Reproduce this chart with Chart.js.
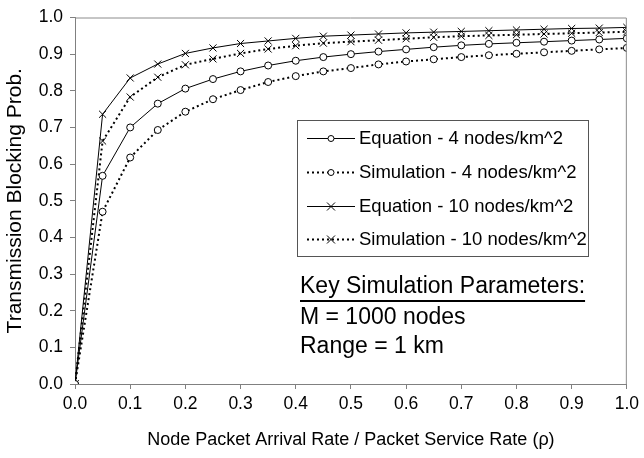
<!DOCTYPE html>
<html>
<head>
<meta charset="utf-8">
<script src="https://cdn.jsdelivr.net/npm/chart.js@4/dist/chart.umd.min.js"></script>
<style>
  html, body { margin: 0; padding: 0; background: #fff; }
</style>
</head>
<body>
<canvas id="blockingChart" width="644" height="458"></canvas>
<script>
// node packet arrival rate / service rate
const rho = [0, 0.05, 0.1, 0.15, 0.2, 0.25, 0.3, 0.35, 0.4, 0.45, 0.5,
             0.55, 0.6, 0.65, 0.7, 0.75, 0.8, 0.85, 0.9, 0.95, 1.0];

const eq4 = [0, 0.568, 0.700, 0.765, 0.806, 0.832, 0.853, 0.869, 0.882, 0.892, 0.900,
             0.907, 0.913, 0.919, 0.924, 0.928, 0.931, 0.934, 0.937, 0.940, 0.943];
const sim4 = [0, 0.470, 0.618, 0.693, 0.743, 0.777, 0.802, 0.824, 0.840, 0.853, 0.862,
              0.872, 0.880, 0.886, 0.892, 0.897, 0.901, 0.905, 0.909, 0.913, 0.917];
const eq10 = [0, 0.736, 0.835, 0.873, 0.902, 0.917, 0.929, 0.936, 0.943, 0.949, 0.952,
              0.955, 0.958, 0.960, 0.962, 0.964, 0.966, 0.968, 0.970, 0.971, 0.973];
const sim10 = [0, 0.663, 0.783, 0.837, 0.871, 0.887, 0.902, 0.914, 0.923, 0.930, 0.934,
               0.938, 0.942, 0.946, 0.949, 0.951, 0.953, 0.955, 0.957, 0.959, 0.961];

const seriesNames = ['Equation - 4 nodes/km^2', 'Simulation - 4 nodes/km^2',
                     'Equation - 10 nodes/km^2', 'Simulation - 10 nodes/km^2'];
const notes = ['Key Simulation Parameters:', 'M = 1000 nodes', 'Range = 1 km'];

const FONT = "'Liberation Sans', Arial, sans-serif";
const toPoints = arr => rho.map((x, i) => ({ x: x, y: arr[i] }));

function series(label, values, dotted, marker) {
  return {
    label: label,
    data: toPoints(values),
    borderColor: '#000',
    borderWidth: dotted ? 2 : 1,
    borderDash: dotted ? [2, 3] : [],
    pointStyle: marker,
    pointRadius: marker === 'circle' ? 3.5 : 5,
    pointBorderWidth: 1,
    pointBorderColor: '#000',
    pointBackgroundColor: '#fff',
    fill: false,
    tension: 0
  };
}

// legend box + parameter notes inside the plot
const extras = {
  id: 'extras',
  afterDraw(chart) {
    const ctx = chart.ctx;
    const area = chart.chartArea;
    ctx.save();
    // top/right frame
    ctx.strokeStyle = '#8c8c8c';
    ctx.lineWidth = 1;
    ctx.beginPath();
    ctx.moveTo(area.left, area.top + 0.5);
    ctx.lineTo(area.right - 0.5, area.top + 0.5);
    ctx.lineTo(area.right - 0.5, area.bottom);
    ctx.stroke();

    // legend
    const bx = 297, by = 120, bw = 291, bh = 136;
    ctx.fillStyle = '#fff';
    ctx.fillRect(bx, by, bw, bh);
    ctx.strokeStyle = '#555';
    ctx.strokeRect(bx + 0.5, by + 0.5, bw, bh);
    const rows = [138, 172, 206, 239];
    chart.data.datasets.forEach((ds, i) => {
      const y = rows[i] + 0.5;
      ctx.strokeStyle = '#000';
      ctx.lineWidth = ds.borderWidth;
      ctx.setLineDash(ds.borderDash);
      ctx.beginPath();
      ctx.moveTo(307, y);
      ctx.lineTo(355, y);
      ctx.stroke();
      ctx.setLineDash([]);
      ctx.lineWidth = 1;
      ctx.beginPath();
      if (ds.pointStyle === 'circle') {
        ctx.arc(331, y, 3, 0, Math.PI * 2);
        ctx.fillStyle = '#fff';
        ctx.fill();
      } else {
        ctx.moveTo(327, y - 4); ctx.lineTo(335, y + 4);
        ctx.moveTo(327, y + 4); ctx.lineTo(335, y - 4);
      }
      ctx.stroke();
      ctx.fillStyle = '#000';
      ctx.font = '18.5px ' + FONT;
      ctx.textBaseline = 'middle';
      ctx.textAlign = 'left';
      ctx.fillText(ds.label, 359, y);
    });

    // notes
    ctx.fillStyle = '#000';
    ctx.font = '23px ' + FONT;
    ctx.textBaseline = 'middle';
    const lines = [287, 318, 347];
    notes.forEach((t, i) => ctx.fillText(t, 300, lines[i]));
    const w = ctx.measureText(notes[0]).width;
    ctx.fillRect(300, 300, w, 2);
    ctx.restore();
  }
};

new Chart(document.getElementById('blockingChart'), {
  type: 'line',
  data: {
    datasets: [
      series(seriesNames[0], eq4, false, 'circle'),
      series(seriesNames[1], sim4, true, 'circle'),
      series(seriesNames[2], eq10, false, 'crossRot'),
      series(seriesNames[3], sim10, true, 'crossRot')
    ]
  },
  options: {
    responsive: false,
    animation: false,
    layout: { padding: { top: 15, right: 13, left: 0, bottom: 0 } },
    plugins: { legend: { display: false }, tooltip: { enabled: false } },
    scales: {
      x: {
        type: 'linear',
        min: 0, max: 1,
        afterFit: s => { s.height = 74; },
        ticks: { stepSize: 0.1, color: '#000', padding: 5,
                 font: { family: FONT, size: 17.5 },
                 callback: v => v.toFixed(1) },
        grid: { drawOnChartArea: false, tickLength: 5, color: '#808080' },
        border: { color: '#808080' },
        title: { display: true, text: 'Node Packet Arrival Rate / Packet Service Rate (\u03c1)',
                 color: '#000', font: { family: FONT, size: 18 }, padding: { top: 0, bottom: 7 } }
      },
      y: {
        min: 0, max: 1,
        afterFit: s => { s.width = 75; },
        ticks: { stepSize: 0.1, color: '#000', padding: 7,
                 font: { family: FONT, size: 17.5 },
                 callback: v => v.toFixed(1) },
        grid: { drawOnChartArea: false, tickLength: 5, color: '#808080' },
        border: { color: '#808080' },
        title: { display: true, text: 'Transmission Blocking Prob.',
                 color: '#000', font: { family: FONT, size: 21 }, padding: { top: 3, bottom: 0 } }
      }
    }
  },
  plugins: [extras]
});
</script>
</body>
</html>
